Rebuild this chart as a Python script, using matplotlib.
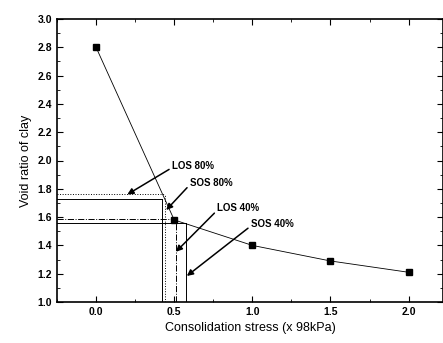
import matplotlib
matplotlib.use("Agg")
import matplotlib.pyplot as plt
from matplotlib.ticker import MultipleLocator

plt.rcParams['font.family'] = ['Liberation Sans', 'DejaVu Sans']

stress = [0.0, 0.5, 1.0, 1.5, 2.0]
void_ratio = [2.80, 1.58, 1.40, 1.29, 1.21]

# reference lines: name, stress, void ratio, style
ref_names = ["LOS 80%", "SOS 80%", "LOS 40%", "SOS 40%"]
ref_stress = [0.44, 0.425, 0.51, 0.575]
ref_void = [1.76, 1.728, 1.585, 1.56]
ref_styles = [":", "-", "-.", "-"]

# annotation text positions and arrow heads (data coords)
text_xy = [(0.485, 1.963), (0.60, 1.843), (0.775, 1.662), (0.99, 1.551)]
head_xy = [(0.20, 1.76), (0.449, 1.65), (0.511, 1.355), (0.581, 1.184)]

fig = plt.figure(figsize=(4.43, 3.43), dpi=100)
ax = fig.add_axes([57/443, 41/343, 1 - 57/443, (302-19)/343])

xmin, ymin = -0.25, 1.0
for s, v, ls in zip(ref_stress, ref_void, ref_styles):
    ax.plot([xmin, s], [v, v], ls=ls, color='black', lw=0.7)
    ax.plot([s, s], [ymin, v], ls=ls, color='black', lw=0.7)

ax.plot(stress, void_ratio, ls='-', color='black', lw=0.6, marker='s', ms=4.5)

for name, t, h in zip(ref_names, text_xy, head_xy):
    ax.annotate(name, xy=h, xytext=t, fontsize=7, fontweight='bold',
                va='center', ha='left',
                arrowprops=dict(arrowstyle='-|>', color='black', lw=1.1,
                                mutation_scale=9, shrinkA=0, shrinkB=0,
                                relpos=(0, 0.3)))

ax.set_xlim(-0.25, 2.22)
ax.set_ylim(1.0, 3.0)
ax.xaxis.set_major_locator(MultipleLocator(0.5))
ax.xaxis.set_minor_locator(MultipleLocator(0.25))
ax.yaxis.set_major_locator(MultipleLocator(0.2))
ax.yaxis.set_minor_locator(MultipleLocator(0.1))
ax.tick_params(which='both', direction='in', top=True, right=True, labelsize=7.5)
ax.tick_params(which='major', length=4)
ax.tick_params(which='minor', length=2)
for lbl in ax.get_xticklabels() + ax.get_yticklabels():
    lbl.set_fontweight('bold')
for sp in ax.spines.values():
    sp.set_linewidth(1.2)

ax.set_xlabel("Consolidation stress (x 98kPa)", fontsize=9)
ax.set_ylabel("Void ratio of clay", fontsize=9)

fig.savefig("out.png", dpi=100)
